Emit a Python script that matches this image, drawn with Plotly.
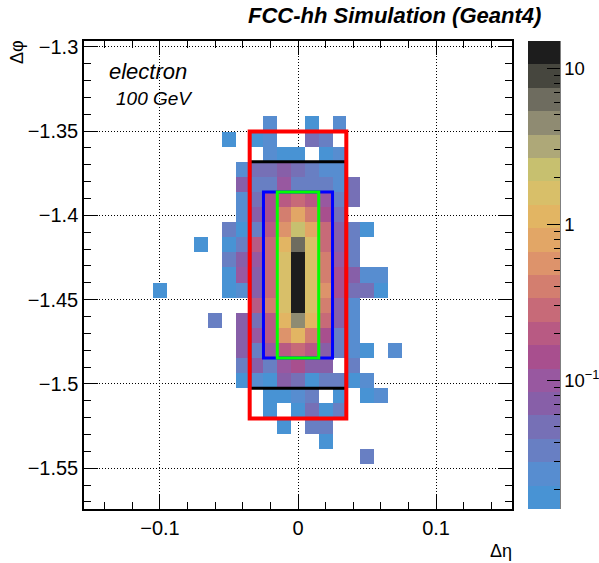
import numpy as np
import plotly.graph_objects as go

# Binning: 31 x 31 cells centred on the seed cell
N_ETA, N_PHI = 31, 31
ETA_MIN, ETA_MAX = -0.155, 0.155
PHI_MIN, PHI_MAX = -1.5742, -1.2966
SEED_ETA, SEED_PHI = 15, 15  # seed cell indices (phi counted from bottom)

# Cell energies [GeV] for columns 4..22 (eta), rows 5..27 counted from the top (phi)
FIRST_COL = 4
FIRST_ROW_FROM_TOP = 5
cell_energy = [
    [0, 0, 0, 0, 0, 0, 0, 0, 0, 0.025, 0, 0, 0.018, 0, 0.025, 0, 0, 0, 0],
    [0, 0, 0, 0, 0, 0, 0.018, 0, 0.018, 0.025, 0, 0, 0.05, 0.036, 0, 0, 0, 0, 0],
    [0, 0, 0, 0, 0, 0, 0, 0, 0, 0.025, 0.018, 0.018, 0, 0.018, 0.025, 0, 0, 0, 0],
    [0, 0, 0, 0, 0, 0, 0, 0.025, 0.05, 0.05, 0.071, 0.05, 0.036, 0.025, 0.025, 0, 0, 0, 0],
    [0, 0, 0, 0, 0, 0, 0, 0.071, 0.036, 0.036, 0.1, 0.036, 0.036, 0.036, 0.025, 0.05, 0, 0, 0],
    [0, 0, 0, 0, 0, 0, 0, 0.025, 0.05, 0.14, 0.2, 0.28, 0.2, 0.1, 0.036, 0.05, 0, 0, 0],
    [0, 0, 0, 0, 0, 0, 0, 0.025, 0.071, 0.14, 0.4, 0.79, 0.4, 0.14, 0.05, 0, 0, 0, 0],
    [0, 0, 0, 0, 0, 0, 0.036, 0.018, 0.036, 0.2, 0.56, 2.2, 0.79, 0.28, 0.071, 0.036, 0.018, 0, 0],
    [0, 0, 0, 0, 0.018, 0, 0.018, 0.036, 0.2, 0.28, 1.1, 6.3, 1.6, 0.28, 0.071, 0.036, 0, 0, 0],
    [0, 0, 0, 0, 0, 0, 0.036, 0.071, 0.1, 0.28, 1.6, 12.5, 1.6, 0.4, 0.1, 0.036, 0, 0, 0],
    [0, 0, 0, 0, 0, 0, 0.018, 0.1, 0.071, 0.28, 1.6, 14.9, 1.6, 0.4, 0.14, 0.071, 0.025, 0.025, 0],
    [0, 0.018, 0, 0, 0, 0, 0.018, 0.025, 0.071, 0.28, 1.6, 12.5, 1.6, 0.56, 0.14, 0.05, 0.05, 0.018, 0],
    [0, 0, 0, 0, 0, 0, 0, 0, 0.2, 0.4, 1.6, 12.5, 1.6, 0.4, 0.071, 0.025, 0, 0, 0],
    [0, 0, 0, 0, 0, 0.036, 0, 0.071, 0.05, 0.2, 1.1, 4.5, 1.1, 0.28, 0.071, 0.025, 0, 0, 0],
    [0, 0, 0, 0, 0, 0, 0, 0.071, 0.1, 0.2, 0.56, 1.1, 0.4, 0.14, 0.036, 0.025, 0, 0, 0],
    [0, 0, 0, 0, 0, 0, 0, 0.071, 0.036, 0.1, 0.2, 0.28, 0.2, 0.071, 0.036, 0.025, 0.018, 0, 0.025],
    [0, 0, 0, 0, 0, 0, 0, 0.036, 0.071, 0.036, 0.1, 0.14, 0.071, 0.071, 0, 0.036, 0, 0, 0],
    [0, 0, 0, 0, 0, 0, 0, 0.018, 0.025, 0.018, 0.071, 0.05, 0.018, 0.036, 0.036, 0.018, 0.025, 0, 0],
    [0, 0, 0, 0, 0, 0, 0, 0, 0, 0.018, 0.018, 0.025, 0.036, 0, 0.018, 0, 0.018, 0.025, 0],
    [0, 0, 0, 0, 0, 0, 0, 0, 0, 0.018, 0, 0.018, 0.05, 0.018, 0.036, 0, 0, 0, 0],
    [0, 0, 0, 0, 0, 0, 0, 0, 0, 0, 0.018, 0, 0.036, 0.036, 0, 0, 0, 0, 0],
    [0, 0, 0, 0, 0, 0, 0, 0, 0, 0, 0, 0, 0, 0.018, 0, 0, 0, 0, 0],
    [0, 0, 0, 0, 0, 0, 0, 0, 0, 0, 0, 0, 0, 0, 0, 0, 0.036, 0, 0],
]

# Clustering windows (colour, cells in eta, cells in phi, line width), drawn in this order
windows = [
    ("black", 7, 15, 3),
    ("red", 7, 19, 4),
    ("blue", 5, 11, 3),
    ("#00ff00", 3, 11, 3),
]

# 20-level palette, lowest level first
palette = [
    "#4893d4", "#578dd0", "#687fc3", "#7670b6", "#875fa8", "#9858a0",
    "#a84f8e", "#b85a83", "#c76a78", "#d37e6f", "#dd936b", "#e2a666",
    "#e2b563", "#d8bf69", "#c7c06f", "#aea878", "#8f8b72", "#6e6c5f",
    "#46463e", "#1d1d1d",
]

cbar_major_vals = [0.1, 1, 10]
cbar_major_text = ["10<sup>\u22121</sup>", "1", "10"]

# ---- build full histogram ----
eta_edges = np.linspace(ETA_MIN, ETA_MAX, N_ETA + 1)
phi_edges = np.linspace(PHI_MIN, PHI_MAX, N_PHI + 1)
eta_centres = 0.5 * (eta_edges[:-1] + eta_edges[1:])
phi_centres = 0.5 * (phi_edges[:-1] + phi_edges[1:])

energy = np.zeros((N_PHI, N_ETA))
for r, row in enumerate(cell_energy):
    j = N_PHI - 1 - (FIRST_ROW_FROM_TOP + r)
    for c, e in enumerate(row):
        energy[j, FIRST_COL + c] = e

zmax = energy.max()
zmin = 1e-3 * zmax
with np.errstate(divide="ignore"):
    logz = np.where(energy > 0, np.log10(energy), np.nan)
lo, hi = np.log10(zmin), np.log10(zmax)

n = len(palette)
colorscale = []
for k, col in enumerate(palette):
    colorscale.append([k / n, col])
    colorscale.append([(k + 1) / n, col])

# colour-axis ticks: minor (2..9 per decade) and major (decades)
minor_vals = []
for dec in range(-3, 3):
    for m in range(2, 10):
        v = np.log10(m * 10.0 ** dec)
        if lo <= v <= hi:
            minor_vals.append(v)
major_vals = [np.log10(v) for v in cbar_major_vals]

FONT = "Liberation Sans"
W, H = 599, 563
ML, MR, MT, MB = 84, 87, 41, 54
pw, ph = W - ML - MR, H - MT - MB

cb_common = dict(
    x=(528 - ML) / pw, xanchor="left", xpad=0,
    y=0.5, yanchor="middle", len=1, lenmode="fraction", ypad=0,
    thickness=32, outlinewidth=0,
    ticks="inside", tickcolor="black", tickwidth=1,
    tickmode="array",
)

fig = go.Figure()
fig.add_trace(go.Heatmap(
    x=eta_centres, y=phi_centres, z=logz, coloraxis="coloraxis",
    hoverongaps=False,
))
fig.add_trace(go.Heatmap(
    x=eta_centres, y=phi_centres, z=logz, coloraxis="coloraxis2",
    hoverinfo="skip",
))

# cluster windows around the seed cell
for colr, neta, nphi, lw in windows:
    i0 = SEED_ETA - neta // 2
    j0 = SEED_PHI - nphi // 2
    fig.add_shape(
        type="rect", xref="x", yref="y",
        x0=eta_edges[i0], x1=eta_edges[i0 + neta],
        y0=phi_edges[j0], y1=phi_edges[j0 + nphi],
        line=dict(color=colr, width=lw), fillcolor="rgba(0,0,0,0)",
        layer="above",
    )

# right edge line of the palette axis
fig.add_shape(type="line", xref="paper", yref="paper",
              x0=(560 - ML) / pw, x1=(560 - ML) / pw, y0=0, y1=1,
              line=dict(color="black", width=1))

axis_common = dict(
    showline=True, linecolor="black", linewidth=1.5, mirror="allticks",
    ticks="inside", ticklen=14, tickwidth=1, tickcolor="black",
    showgrid=True, gridcolor="black", gridwidth=1, griddash="1px,2px",
    zeroline=False, layer="above traces",
    tickfont=dict(family=FONT, size=20, color="black"),
)

fig.update_layout(
    width=W, height=H,
    margin=dict(l=ML, r=MR, t=MT, b=MB, autoexpand=False),
    paper_bgcolor="white", plot_bgcolor="white",
    showlegend=False,
    xaxis=dict(range=[ETA_MIN, ETA_MAX], dtick=0.1, tick0=0,
               minor=dict(dtick=0.02, tick0=0, ticklen=7, ticks="inside",
                          tickcolor="black", showgrid=False),
               **axis_common),
    yaxis=dict(range=[PHI_MIN, PHI_MAX], dtick=0.05, tick0=-1.3,
               minor=dict(dtick=0.01, tick0=-1.3, ticklen=7, ticks="inside",
                          tickcolor="black", showgrid=False),
               **axis_common),
    coloraxis=dict(
        cmin=lo, cmax=hi, colorscale=colorscale,
        colorbar=dict(tickvals=minor_vals, ticklen=6, showticklabels=False,
                      **cb_common),
    ),
    coloraxis2=dict(
        cmin=lo, cmax=hi,
        colorscale=[[0, "rgba(0,0,0,0)"], [1, "rgba(0,0,0,0)"]],
        colorbar=dict(tickvals=major_vals, ticktext=cbar_major_text,
                      ticklen=13,
                      tickfont=dict(family=FONT, size=18.5, color="black"),
                      **cb_common),
    ),
    annotations=[
        dict(text="<b><i>FCC-hh Simulation (Geant4)</i></b>",
             xref="paper", yref="paper", x=(543 - ML) / pw, y=1 + (MT - 16) / ph,
             xanchor="right", yanchor="middle", showarrow=False,
             font=dict(family=FONT, size=22, color="black")),
        dict(text="<i>electron</i>", xref="paper", yref="paper",
             x=(107 - ML) / pw, y=1 - (71 - MT) / ph,
             xanchor="left", yanchor="middle", showarrow=False,
             font=dict(family=FONT, size=22, color="black")),
        dict(text="<i>100 GeV</i>", xref="paper", yref="paper",
             x=(114 - ML) / pw, y=1 - (98 - MT) / ph,
             xanchor="left", yanchor="middle", showarrow=False,
             font=dict(family=FONT, size=19, color="black")),
        dict(text="\u0394\u03c6", xref="paper", yref="paper",
             x=(17 - ML) / pw, y=1 - (52 - MT) / ph, textangle=-90,
             xanchor="center", yanchor="middle", showarrow=False,
             font=dict(family=FONT, size=18, color="black")),
        dict(text="\u0394\u03b7", xref="paper", yref="paper",
             x=(501 - ML) / pw, y=-(551 - (H - MB)) / ph,
             xanchor="center", yanchor="middle", showarrow=False,
             font=dict(family=FONT, size=18, color="black")),
    ],
)

fig.write_html("out.html")
